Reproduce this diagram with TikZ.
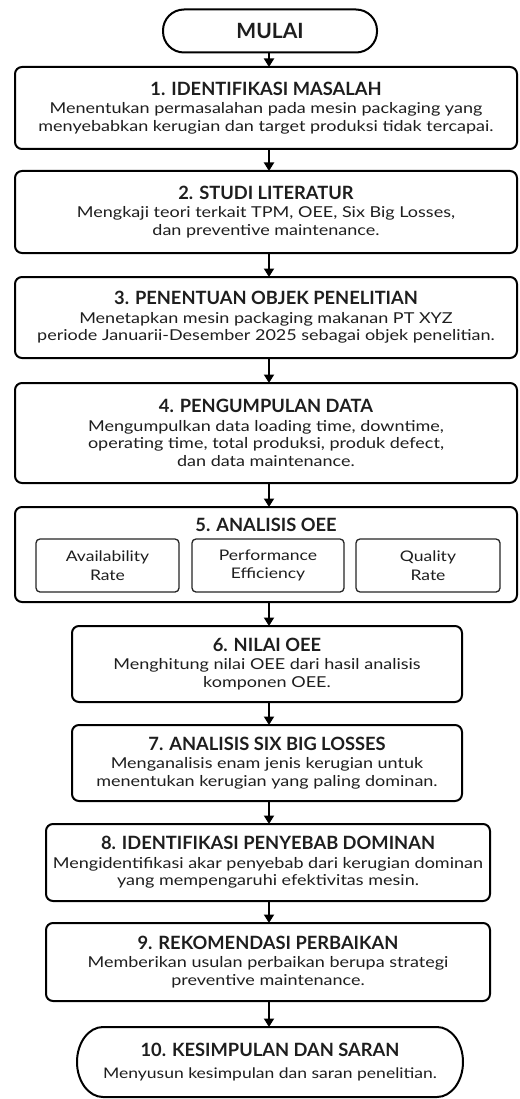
\documentclass[tikz,border=0pt]{standalone}
\usepackage{fontspec}
\setmainfont{Lato}
\newfontfamily\bodyfont{Lato}[FakeStretch=1.2]
\usetikzlibrary{arrows.meta,positioning}
\definecolor{ink}{HTML}{1E1E1E}
\newcommand{\ttl}[1]{{\rmfamily\fontsize{18.3}{20}\selectfont\bfseries #1}}
\tikzset{
  x=1pt,y=1pt,
  every node/.style={text=ink,inner sep=0pt,outer sep=0pt},
  stepbox/.style={draw=black,line width=2pt,rounded corners=7pt,align=center,
    font=\bodyfont\fontsize{15}{17.5}\selectfont},
  subbox/.style={draw=black!85,line width=1.3pt,rounded corners=4pt,align=center,
    font=\bodyfont\fontsize{14.6}{18.5}\selectfont},
  termbox/.style={draw=black,line width=2pt,rounded corners=21pt,align=center},
  flow/.style={draw=black,line width=1.8pt,-{Triangle[width=10pt,length=8.5pt]}},
}
\begin{document}
\begin{tikzpicture}
\useasboundingbox[fill=white] (0,0) rectangle (519,-1099);
\coordinate (axis) at (269,0);
% start
\node[termbox,minimum width=214pt,minimum height=43pt] (mulai) at (270,-31)
  {{\rmfamily\fontsize{21}{24}\selectfont\bfseries MULAI}};
\node[stepbox,minimum width=502pt,minimum height=82pt] (b1) at (266,-108)
  {\ttl{1. IDENTIFIKASI MASALAH}\\[1pt]Menentukan permasalahan pada mesin packaging yang\\menyebabkan kerugian dan target produksi tidak tercapai.};
\node[stepbox,minimum width=502pt,minimum height=82pt] (b2) at (266,-212)
  {\ttl{2. STUDI LITERATUR}\\[1pt]Mengkaji teori terkait TPM, OEE, Six Big Losses,\\dan preventive maintenance.};
\node[stepbox,minimum width=502pt,minimum height=81pt] (b3) at (266,-317.5)
  {\ttl{3. PENENTUAN OBJEK PENELITIAN}\\[1pt]Menetapkan mesin packaging makanan PT XYZ\\periode Januarii-Desember 2025 sebagai objek penelitian.};
\node[stepbox,minimum width=502pt,minimum height=100pt] (b4) at (266,-433)
  {\ttl{4. PENGUMPULAN DATA}\\[1pt]Mengumpulkan data loading time, downtime,\\operating time, total produksi, produk defect,\\dan data maintenance.};
\node[stepbox,minimum width=502pt,minimum height=95pt] (b5) at (266,-554.5) {};
\node[anchor=base] (t5) at (266,-531) {\ttl{5. ANALISIS OEE}};
\node[subbox,minimum width=143pt,minimum height=53pt] (s1) at (107.5,-565.5) {Availability\\Rate};
\node[subbox,minimum width=152pt,minimum height=53pt] (s2) at (268,-565.5) {Performance\\Efficiency};
\node[subbox,minimum width=144pt,minimum height=53pt] (s3) at (428,-565.5) {Quality\\Rate};
\node[stepbox,minimum width=390pt,minimum height=76pt] (b6) at (267,-664)
  {\ttl{6. NILAI OEE}\\[1pt]Menghitung nilai OEE dari hasil analisis\\komponen OEE.};
\node[stepbox,minimum width=390pt,minimum height=76pt] (b7) at (267,-763)
  {\ttl{7. ANALISIS SIX BIG LOSSES}\\[1pt]Menganalisis enam jenis kerugian untuk\\menentukan kerugian yang paling dominan.};
\node[stepbox,minimum width=444pt,minimum height=77pt] (b8) at (268,-862.5)
  {\ttl{8. IDENTIFIKASI PENYEBAB DOMINAN}\\[1pt]Mengidentifikasi akar penyebab dari kerugian dominan\\yang mempengaruhi efektivitas mesin.};
\node[stepbox,minimum width=444pt,minimum height=78pt] (b9) at (268,-962)
  {\ttl{9. REKOMENDASI PERBAIKAN}\\[1pt]Memberikan usulan perbaikan berupa strategi\\preventive maintenance.};
\node[align=center,font=\bodyfont\fontsize{14.6}{17.5}\selectfont,minimum width=386pt,minimum height=70pt] (b10) at (270,-1062)
  {\ttl{10. KESIMPULAN DAN SARAN}\\[4pt]Menyusun kesimpulan dan saran penelitian.};
\draw[line width=2pt] ([xshift=26pt]b10.north west) -- ([xshift=-26pt]b10.north east)
  arc[start angle=90,end angle=-90,x radius=26pt,y radius=35pt]
  -- ([xshift=26pt]b10.south west)
  arc[start angle=270,end angle=90,x radius=26pt,y radius=35pt] -- cycle;
% connectors
\foreach \a/\b in {mulai/b1,b1/b2,b2/b3,b3/b4,b4/b5,b5/b6,b6/b7,b7/b8,b8/b9,b9/b10}
  \draw[flow] (\a.south -| axis) -- (\b.north -| axis);
\end{tikzpicture}
\end{document}
